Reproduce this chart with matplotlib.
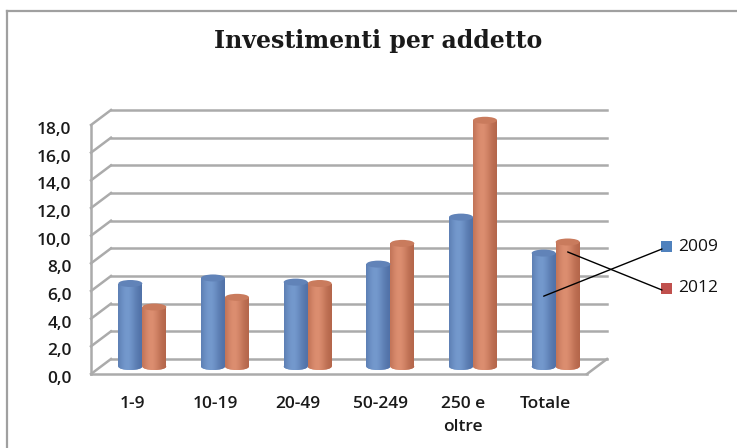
import numpy as np
import matplotlib
matplotlib.use("Agg")
import matplotlib.pyplot as plt
import matplotlib.transforms as mtransforms
from matplotlib.patches import Ellipse, Rectangle, ConnectionPatch
from matplotlib.lines import Line2D

# ---- data ----
categories = ["1-9", "10-19", "20-49", "50-249", "250 e\noltre", "Totale"]
series_names = ["2009", "2012"]
values_2009 = [6.0, 6.4, 6.1, 7.4, 10.8, 8.2]
values_2012 = [4.3, 5.0, 6.0, 8.9, 17.8, 9.0]
yticks = [0, 2, 4, 6, 8, 10, 12, 14, 16, 18]
ytick_labels = ["0,0", "2,0", "4,0", "6,0", "8,0", "10,0", "12,0", "14,0", "16,0", "18,0"]

# ---- style ----
W, H, DPI = 737, 448, 100
grid_col = "#ABABAB"
blue_light, blue_dark, blue_top = np.array([0x74, 0x99, 0xCD]) / 255, np.array([0x4E, 0x6E, 0xA4]) / 255, "#6183B8"
orng_light, orng_dark, orng_top = np.array([0xDC, 0x8E, 0x70]) / 255, np.array([0xB0, 0x62, 0x47]) / 255, "#C97B5D"
font = "Open Sans"

fig = plt.figure(figsize=(W / DPI, H / DPI), dpi=DPI)
fig.patch.set_facecolor("white")

# outer border
fig.add_artist(Line2D([7 / W, 7 / W], [0, 1 - 11 / H], color="#A0A0A0", lw=1.6, transform=fig.transFigure))
fig.add_artist(Line2D([7 / W, 1], [1 - 11 / H, 1 - 11 / H], color="#A0A0A0", lw=1.6, transform=fig.transFigure))

# front plane axes
x0px, x1px, ybot, ytop = 91, 587, 374, 125
ax = fig.add_axes([x0px / W, (H - ybot) / H, (x1px - x0px) / W, (ybot - ytop) / H])
ax.set_xlim(0, len(categories))
ax.set_ylim(0, 18)
for s in ax.spines.values():
    s.set_visible(False)
ax.patch.set_alpha(0)

pxx = (x1px - x0px) / len(categories)   # px per x unit
pxy = (ybot - ytop) / 18.0              # px per y unit
dx = 20 / pxx                           # depth offset in data units
dy = 15 / pxy
n = len(categories)

lw = 1.8
# back wall gridlines
for v in yticks:
    ax.plot([dx, n + dx], [v + dy, v + dy], color=grid_col, lw=lw, clip_on=False, zorder=1)
    ax.plot([0, dx], [v, v + dy], color=grid_col, lw=lw, clip_on=False, zorder=1)
# front left vertical and floor
ax.plot([0, 0], [0, 18], color=grid_col, lw=lw, clip_on=False, zorder=1)
ax.plot([0, n], [0, 0], color=grid_col, lw=lw, clip_on=False, zorder=1)
ax.plot([n, n + dx], [0, dy], color=grid_col, lw=lw, clip_on=False, zorder=1)

# cylinders
bw = 24 / pxx
eh = 7 / pxy
xc = np.arange(n) + 0.5 + dx / 2
t = np.linspace(0, 1, 64)
k = np.exp(-((t - 0.38) / 0.40) ** 2)


def grad(light, dark):
    c = dark[None, :] + (light - dark)[None, :] * k[:, None]
    return c[None, :, :]


series = [(values_2009, -bw / 2, blue_light, blue_dark, blue_top),
          (values_2012, bw / 2, orng_light, orng_dark, orng_top)]
bar_containers = []
for vals, off, light, dark, top in series:
    img = grad(light, dark)
    bars = ax.bar(xc + off, vals, width=bw, bottom=dy / 2, color=light, zorder=3, clip_on=False, linewidth=0)
    bar_containers.append(bars)
    for b, v in zip(bars, vals):
        cx = b.get_x() + bw / 2
        be = Ellipse((cx, dy / 2), bw, eh, facecolor=light, edgecolor="none", zorder=3, clip_on=False)
        ax.add_patch(be)
        for p in (b, be):
            im = ax.imshow(img, extent=[b.get_x(), b.get_x() + bw, dy / 2 - eh, dy / 2 + v], aspect="auto",
                           zorder=3.5, interpolation="bilinear")
            im.set_clip_path(p)
        te = Ellipse((cx, dy / 2 + v), bw, eh, facecolor=top, edgecolor="none", zorder=4, clip_on=False)
        ax.add_patch(te)

ax.set_xlim(0, n)
ax.set_ylim(0, 18)

# ticks
ax.set_yticks(yticks)
ax.set_yticklabels(ytick_labels)
ax.set_xticks(np.arange(n) + 0.5)
ax.set_xticklabels(categories)
ax.tick_params(axis="both", length=0)
ax.tick_params(axis="y", pad=14)
ax.tick_params(axis="x", pad=16)
ydown = mtransforms.ScaledTranslation(0, -3 / DPI, fig.dpi_scale_trans)
for lab in ax.get_yticklabels():
    lab.set_fontfamily(font); lab.set_fontsize(12.5); lab.set_fontweight("semibold"); lab.set_color("#1a1a1a")
    lab.set_transform(lab.get_transform() + ydown)
for lab in ax.get_xticklabels():
    lab.set_fontfamily(font); lab.set_fontsize(12.5); lab.set_fontweight("semibold"); lab.set_color("#1a1a1a")
    lab.set_linespacing(1.55)

# title
fig.text(378 / W, 1 - 41 / H, "Investimenti per addetto", ha="center", va="center",
         fontsize=17, fontweight="bold", family="DejaVu Serif", color="#1a1a1a")

# legend (manual, with leader lines)
leg_y = [247, 288]
frac = [0.62, 0.92]
for i, name in enumerate(series_names):
    yy = 1 - leg_y[i] / H
    fig.add_artist(Rectangle((661 / W, yy - 5.5 / H), 11 / W, 11 / H, transform=fig.transFigure,
                             facecolor=["#4F81BD", "#C0504D"][i], edgecolor="none"))
    fig.text(678 / W, yy, name, ha="left", va="center", fontsize=12.5, family=font, color="#111111")
    b = bar_containers[i][-1]
    vals = series[i][0]
    cp = ConnectionPatch(xyA=(b.get_x() + bw / 2, dy / 2 + vals[-1] * frac[i]), coordsA=ax.transData,
                         xyB=(662 / W, yy - 2 / H), coordsB=fig.transFigure, color="black", lw=1.0, zorder=6)
    fig.add_artist(cp)

fig.savefig("out.png", dpi=DPI)
